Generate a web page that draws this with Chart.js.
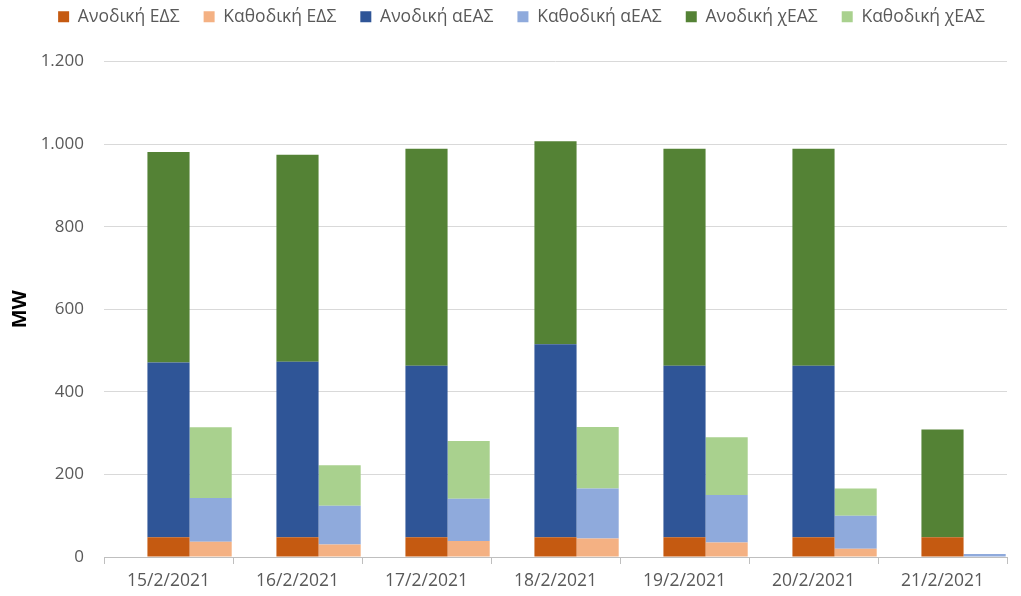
<!DOCTYPE html>
<html>
<head>
<meta charset="utf-8">
<script src="https://cdn.jsdelivr.net/npm/chart.js@4/dist/chart.umd.min.js"></script>
<style>
	html, body { margin: 0; padding: 0; background: #fff; }
	#wrap { width: 1021px; height: 596px; }
</style>
</head>
<body>
<div id="wrap"><canvas id="reserveChart" width="1021" height="596"></canvas></div>
<script>
// ===== DATA =====
const dates = ['15/2/2021', '16/2/2021', '17/2/2021', '18/2/2021', '19/2/2021', '20/2/2021', '21/2/2021'];

const upEds   = [48, 48, 48, 48, 48, 48, 48];
const downEds = [37, 30, 39, 45, 35, 20, 0];
const upAeas  = [423, 425, 415, 467, 415, 415, 0];
const downAeas = [106, 94, 102, 121, 115, 80, 7];
const upXeas  = [510, 501, 526, 492, 526, 526, 261];
const downXeas = [171, 98, 140, 149, 140, 66, 0];

const yTicks = [0, 200, 400, 600, 800, 1000, 1200];

// ===== CHART =====
const ctx = document.getElementById('reserveChart').getContext('2d');

function fmt(v) {
	return v.toString().replace(/\B(?=(\d{3})+(?!\d))/g, '.');
}

const font = 'Open Sans';

// push the plot down below the legend, nudge legend right
const legendGap = {
	id: 'legendGap',
	beforeInit(chart) {
		const origFit = chart.legend.fit;
		chart.legend.fit = function() {
			origFit.call(this);
			this.height += 26;
		};
	},
	afterLayout(chart) {
		chart.legend.left += 14;
		chart.legend.right += 14;
	}
};

new Chart(ctx, {
	type: 'bar',
	data: {
		labels: dates,
		datasets: [
			// empty slot so the two stacks sit right of centre, as in the original
			{ label: '', data: dates.map(() => null), backgroundColor: 'rgba(0,0,0,0)', stack: 'blank' },
			{ label: 'Ανοδική ΕΔΣ', data: upEds, backgroundColor: '#C55A11', stack: 'up' },
			{ label: 'Καθοδική ΕΔΣ', data: downEds, backgroundColor: '#F4B183', stack: 'down' },
			{ label: 'Ανοδική αΕΑΣ', data: upAeas, backgroundColor: '#2F5597', stack: 'up' },
			{ label: 'Καθοδική αΕΑΣ', data: downAeas, backgroundColor: '#8FAADC', stack: 'down' },
			{ label: 'Ανοδική χΕΑΣ', data: upXeas, backgroundColor: '#548235', stack: 'up' },
			{ label: 'Καθοδική χΕΑΣ', data: downXeas, backgroundColor: '#A9D18E', stack: 'down' }
		]
	},
	plugins: [legendGap],
	options: {
		responsive: false,
		animation: false,
		datasets: {
			bar: {
				categoryPercentage: 0.98,
				barPercentage: 1.0
			}
		},
		layout: {
			padding: { left: 8, right: 14, top: -16, bottom: -3 }
		},
		plugins: {
			legend: {
				display: true,
				position: 'top',
				labels: {
					boxWidth: 11,
					boxHeight: 11,
					color: '#595959',
					padding: 24,
					font: { size: 17.5, family: font },
					filter: item => item.text !== ''
				}
			},
			tooltip: { enabled: false }
		},
		scales: {
			x: {
				stacked: true,
				grid: {
					offset: true,
					drawOnChartArea: false,
					drawTicks: true,
					tickLength: 7,
					color: '#BFBFBF'
				},
				border: { color: '#BFBFBF' },
				ticks: {
					color: '#595959',
					padding: 7,
					font: { size: 17.5, family: font }
				}
			},
			y: {
				stacked: true,
				min: 0,
				max: 1200,
				afterBuildTicks: function(axis) {
					axis.ticks = yTicks.map(v => ({ value: v }));
				},
				afterFit: function(axis) {
					axis.width = 96;
				},
				grid: {
					color: '#D9D9D9',
					drawTicks: false
				},
				border: { display: false },
				ticks: {
					color: '#595959',
					padding: 20,
					font: { size: 17, family: font },
					callback: function(value) {
						return fmt(value);
					}
				},
				title: {
					display: true,
					text: 'MW',
					color: '#000',
					padding: { top: 0, bottom: 0 },
					font: { size: 20, weight: 'bold', family: font }
				}
			}
		}
	}
});
</script>
</body>
</html>
